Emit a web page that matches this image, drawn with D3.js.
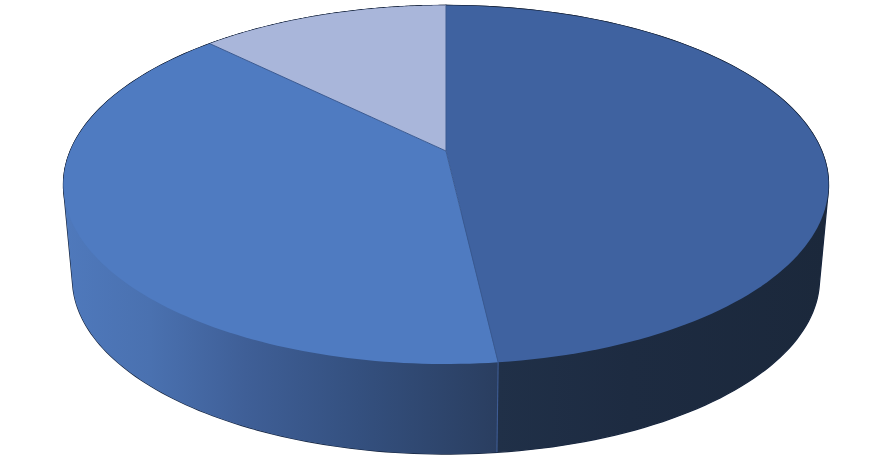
<!DOCTYPE html>
<html><head><meta charset="utf-8">
<script src="https://cdn.jsdelivr.net/npm/d3@7"></script>
<style>html,body{margin:0;padding:0;background:#fff}svg{display:block}</style>
</head><body><svg id="c" width="891" height="461"></svg>
<script>
const categories = ["A", "B", "C"];
const values = [48.2, 39.2, 12.6];

const svg = d3.select("#c");
const pie = d3.pie().sort(null).value(d => d.v).startAngle(0).endAngle(2 * Math.PI);
const arcs = pie(categories.map((c, i) => ({c, v: values[i]})));

// perspective projection of the disc
const far = 145.5, near = 213, halfW = 382.5;
const a = -(near - far) / (near + far), b = far * (1 - a), d = halfW * Math.sqrt(1 - a * a);
const proj = (cx, cy, s) => t => {
  const u = Math.sin(t), v = -Math.cos(t), w = 1 + a * v;
  return [cx + s * d * u / w, cy + s * b * v / w];
};
const apex = [446, 151];
const topP = proj(apex[0], apex[1], 1);
const botS = 373.5 / 382.5;
const botP = proj(apex[0], 454 - near * botS, botS);
const samples = (t0, t1) => d3.range(0, 121).map(i => t0 + (t1 - t0) * i / 120);
const line = d3.line();

const defs = svg.append("defs");
const wallStops = [
  [["#4f79bc", 0], ["#4a71b0", .2], ["#3f5f97", .42], ["#34507f", .68], ["#2a3e60", 1]],
  [["#203048", 0], ["#1d2b41", .4], ["#1b283b", 1]]
];
const wallRange = [[63, 497], [497, 829]];
const grad = (id, stops, r) => {
  const g = defs.append("linearGradient").attr("id", id).attr("gradientUnits", "userSpaceOnUse")
    .attr("x1", r[0]).attr("x2", r[1]).attr("y1", 0).attr("y2", 0);
  g.selectAll("stop").data(stops).join("stop")
    .attr("offset", s => s[1]).attr("stop-color", s => s[0]);
};
grad("wallDark", wallStops[1], wallRange[1]);
grad("wallMid", wallStops[0], wallRange[0]);

const wallPath = s => {
  const ts = samples(s.startAngle, s.endAngle);
  return line(d3.polygonHull(ts.map(topP).concat(ts.map(botP)))) + "Z";
};
const facePath = s => line([apex].concat(samples(s.startAngle, s.endAngle).map(topP))) + "Z";

const wallFill = ["url(#wallDark)", "url(#wallMid)", "#8e9cc4"];
const faceFill = ["#3f62a0", "#4f7bc1", "#a9b6da"];

// dark outer edge
svg.append("g").selectAll("path").data(arcs).join("path")
  .attr("d", wallPath).attr("fill", "none").attr("stroke", "#14233d").attr("stroke-width", 1.3);
svg.append("path").attr("d", line(samples(0, 2 * Math.PI).map(topP)) + "Z")
  .attr("fill", "none").attr("stroke", "#14233d").attr("stroke-width", 1.3);

// side walls
svg.append("g").selectAll("path").data(arcs).join("path")
  .attr("d", wallPath).attr("fill", (s, i) => wallFill[i]);

// seam between the two visible walls
const seam = arcs[0].endAngle;
svg.append("path").attr("d", line([topP(seam), botP(seam)]))
  .attr("stroke", "#3e5c94").attr("stroke-width", 1.1).attr("fill", "none");

// top faces
svg.append("g").selectAll("path").data(arcs).join("path")
  .attr("d", facePath).attr("fill", (s, i) => faceFill[i]);

// slice edges
svg.append("g").selectAll("path").data(arcs).join("path")
  .attr("d", s => line([apex, topP(s.startAngle)]))
  .attr("stroke", "#3a5a92").attr("stroke-width", 1).attr("fill", "none");
</script></body></html>
